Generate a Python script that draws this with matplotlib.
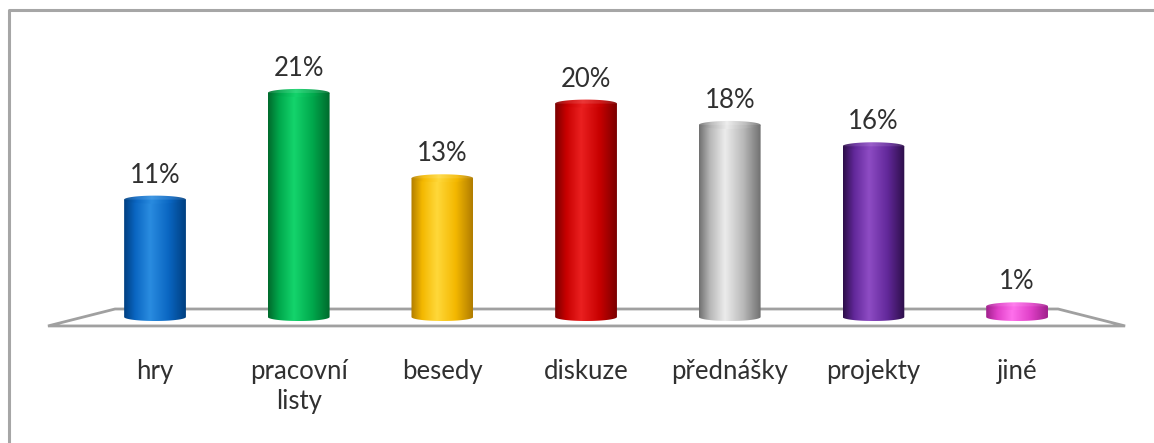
import numpy as np
import matplotlib
matplotlib.use('Agg')
import matplotlib.pyplot as plt
from matplotlib.path import Path
from matplotlib.patches import PathPatch, Polygon
from matplotlib.colors import LinearSegmentedColormap

# Survey answers, share of respondents in percent
categories = ['hry', 'pracovní\nlisty', 'besedy', 'diskuze', 'přednášky', 'projekty', 'jiné']
values = [11, 21, 13, 20, 18, 16, 1]
labels = ['11%', '21%', '13%', '20%', '18%', '16%', '1%']

# (dark edge, body, highlight) per column
palette = [
    ('#003f80', '#0a66c2', '#2a8ce0'),
    ('#006a2c', '#00a84c', '#14d46c'),
    ('#b07c00', '#f4b800', '#ffd83a'),
    ('#7a0000', '#c80000', '#ea2020'),
    ('#707070', '#b8b8b8', '#ececec'),
    ('#2c0e48', '#62289a', '#8e4cc4'),
    ('#a0208c', '#e040c8', '#ff70ec'),
]

plt.rcParams['font.family'] = ['Lato', 'DejaVu Sans']
TEXT = '#303030'

fig = plt.figure(figsize=(11.54, 4.43), dpi=100)
ax = fig.add_axes([0, 0, 1, 1])
ax.axis('off')

# outer frame (only top and left edges show)
ax.plot([9 / 1154, 9 / 1154, 1], [0, 1 - 10 / 443, 1 - 10 / 443],
        transform=ax.transAxes, color='#a6a6a6', lw=2.2, clip_on=False)

# floor of the 3D plot
floor = Polygon([(-0.745, -0.84), (-0.278, 0.75), (6.285, 0.75), (6.752, -0.84)],
                closed=True, facecolor='white', edgecolor='#a0a0a0', lw=2, zorder=1)
ax.add_patch(floor)

w = 0.43     # column width (x units)
eh = 0.75    # ellipse height (y units)
t = np.linspace(0, np.pi, 60)
grad = np.linspace(0, 1, 256).reshape(1, -1)


def cylinder(x0, h, cols, z):
    dark, body, light = cols
    cmap = LinearSegmentedColormap.from_list(
        'c', [(0, dark), (0.18, body), (0.42, light), (0.72, body), (1, dark)])
    # body outline: straight sides, rounded bottom
    xs = np.concatenate([[x0 - w / 2], x0 - w / 2 * np.cos(t), [x0 + w / 2]])
    ys = np.concatenate([[h], -eh / 2 * np.sin(t), [h]])
    patch = PathPatch(Path(np.column_stack([xs, ys])), facecolor='none', edgecolor='none')
    ax.add_patch(patch)
    im = ax.imshow(grad, cmap=cmap, aspect='auto', zorder=z,
                   extent=[x0 - w / 2, x0 + w / 2, -eh / 2 - 0.1, h], interpolation='bilinear')
    im.set_clip_path(patch)
    # top cap, close to the body tone
    tt = np.linspace(0, 2 * np.pi, 120)
    cap = PathPatch(Path(np.column_stack([x0 + w / 2 * np.cos(tt), h + eh / 2 * np.sin(tt)])),
                    facecolor='none', edgecolor='none')
    ax.add_patch(cap)
    lc = LinearSegmentedColormap.from_list(
        'l', [(0, dark), (0.2, body), (0.45, light), (0.75, body), (1, dark)])
    im2 = ax.imshow(grad, cmap=lc, aspect='auto', zorder=z + 0.1, alpha=0.9,
                    extent=[x0 - w / 2, x0 + w / 2, h - eh / 2, h + eh / 2], interpolation='bilinear')
    im2.set_clip_path(cap)


for i, (v, c) in enumerate(zip(values, palette)):
    cylinder(i, v, c, 3)
    ax.text(i, v + 2.3, labels[i], ha='center', va='center', fontsize=18.5, color=TEXT, zorder=5)
    ax.text(i, -3.9, categories[i], ha='center', va='top', fontsize=18.5, color=TEXT,
            linespacing=1.25, zorder=5)

ax.set_xlim(-1.079, 6.953)
ax.set_ylim(-11.81, 29.71)

fig.savefig('out.png', dpi=100)
